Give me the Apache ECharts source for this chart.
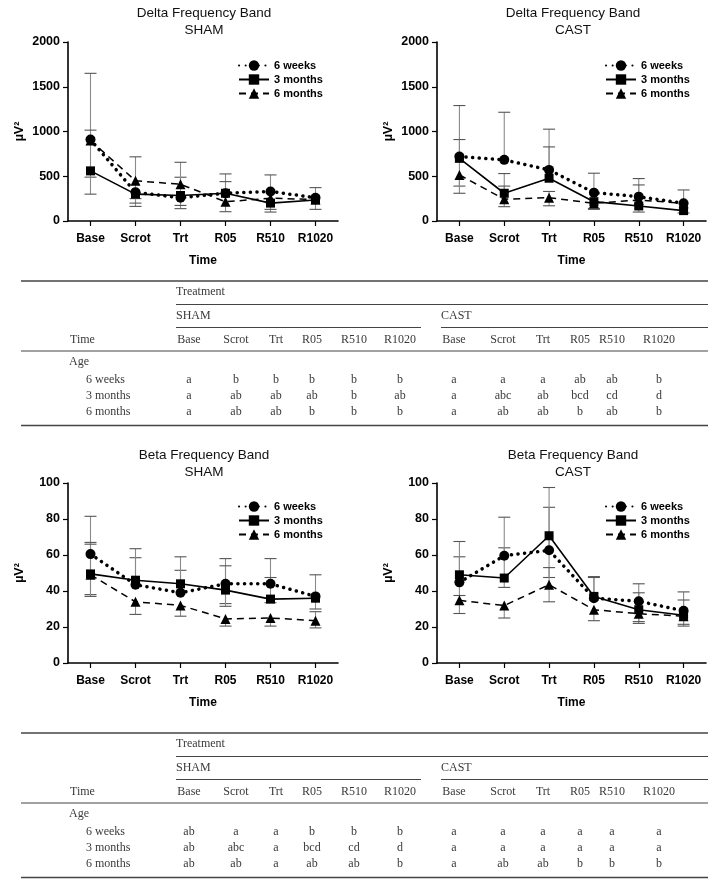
<!DOCTYPE html>
<html><head><meta charset="utf-8">
<script src="https://cdn.jsdelivr.net/npm/echarts@6/dist/echarts.min.js"></script>
<style>html,body{margin:0;padding:0;background:#fff}#c{width:717px;height:885px}</style>
</head><body><div id="c"></div>
<script>
// ---------- data ----------
const times = ['Base', 'Scrot', 'Trt', 'R05', 'R510', 'R1020'];
const ages = ['6 weeks', '3 months', '6 months'];

// Delta SHAM
const deltaSham6w = [910, 320, 260, 310, 330, 260];
const deltaSham3m = [560, 300, 285, 310, 200, 235];
const deltaSham6m = [900, 450, 410, 215, 255, 240];
const deltaSham6wErr = [[1650, 490], [null, 250], [null, 138], [526, null], [515, null], [373, null]];
const deltaSham3mErr = [[null, 300], [null, 163], [489, 174], [440, null], [null, 100], [null, 130]];
const deltaSham6mErr = [[1015, null], [717, 200], [656, null], [null, 104], [null, 130], [null, null]];

// Delta CAST
const deltaCast6w = [720, 683, 571, 317, 272, 198];
const deltaCast3m = [700, 310, 478, 216, 168, 116];
const deltaCast6m = [515, 243, 261, 198, 235, 198];
const deltaCast6wErr = [[1290, null], [1215, null], [1026, null], [534, null], [474, null], [347, null]];
const deltaCast3mErr = [[910, 390], [530, null], [828, null], [null, 130], [null, 100], [null, 90]];
const deltaCast6mErr = [[null, 310], [390, 160], [330, 170], [null, 140], [403, null], [null, null]];

// Beta SHAM
const betaSham6w = [60.5, 43.5, 39, 44, 44, 37];
const betaSham3m = [49.5, 46, 44, 40.5, 35.5, 36];
const betaSham6m = [49, 34, 32, 24.5, 25, 23.5];
const betaSham6wErr = [[81.5, null], [58.5, null], [51.5, null], [58, 33], [58, null], [49, null]];
const betaSham3mErr = [[67, 38], [63.5, null], [59, null], [54, 31.5], [47.5, 33.5], [null, 30]];
const betaSham6mErr = [[66, 37], [null, 27], [null, 26], [null, 20.5], [null, 20.5], [28.5, 19.5]];

// Beta CAST
const betaCast6w = [44.8, 59.6, 62.6, 36, 34.3, 29];
const betaCast3m = [49, 47.2, 70.7, 37, 29.6, 26.5];
const betaCast6m = [34.8, 31.9, 43.5, 29.6, 27.4, 26];
const betaCast6wErr = [[59, 37.5], [64, null], [86.5, null], [48, null], [44, null], [39.5, null]];
const betaCast3mErr = [[67.5, null], [81, 42], [97.5, 47.5], [47.5, null], [39, 22], [35, 20.5]];
const betaCast6mErr = [[null, 27.5], [null, 25], [53, 34], [null, 23.5], [null, 23], [null, 21.5]];

// letters tables
const deltaShamLetters = [['a','b','b','b','b','b'], ['a','ab','ab','ab','b','ab'], ['a','ab','ab','b','b','b']];
const deltaCastLetters = [['a','a','a','ab','ab','b'], ['a','abc','ab','bcd','cd','d'], ['a','ab','ab','b','ab','b']];
const betaShamLetters = [['ab','a','a','b','b','b'], ['ab','abc','a','bcd','cd','d'], ['ab','ab','a','ab','ab','b']];
const betaCastLetters = [['a','a','a','a','a','a'], ['a','a','a','a','a','a'], ['a','ab','ab','b','b','b']];

// ---------- layout ----------
const SANS = '"Liberation Sans", Arial, sans-serif';
const SERIF = '"Liberation Serif", "Times New Roman", serif';

const panels = [
  { band: 'Delta Frequency Band', group: 'SHAM', cx: 204, ty: 13, left: 68, top: 42, width: 270, height: 179, max: 2000, interval: 500,
    means: [deltaSham6w, deltaSham3m, deltaSham6m], errs: [deltaSham6wErr, deltaSham3mErr, deltaSham6mErr], lgLeft: 233, lgTop: 55 },
  { band: 'Delta Frequency Band', group: 'CAST', cx: 573, ty: 13, left: 437, top: 42, width: 269, height: 179, max: 2000, interval: 500,
    means: [deltaCast6w, deltaCast3m, deltaCast6m], errs: [deltaCast6wErr, deltaCast3mErr, deltaCast6mErr], lgLeft: 600, lgTop: 55 },
  { band: 'Beta Frequency Band', group: 'SHAM', cx: 204, ty: 455, left: 68, top: 483, width: 270, height: 180, max: 100, interval: 20,
    means: [betaSham6w, betaSham3m, betaSham6m], errs: [betaSham6wErr, betaSham3mErr, betaSham6mErr], lgLeft: 233, lgTop: 496 },
  { band: 'Beta Frequency Band', group: 'CAST', cx: 573, ty: 455, left: 437, top: 483, width: 269, height: 180, max: 100, interval: 20,
    means: [betaCast6w, betaCast3m, betaCast6m], errs: [betaCast6wErr, betaCast3mErr, betaCast6mErr], lgLeft: 600, lgTop: 496 }
];

const seriesStyles = [
  { symbol: 'circle', symbolSize: 10, lineStyle: { color: '#000', width: 3.5, type: [0.1, 6.5], cap: 'round' } },
  { symbol: 'rect', symbolSize: 9, lineStyle: { color: '#000', width: 1.6, type: 'solid' } },
  { symbol: 'triangle', symbolSize: 10, lineStyle: { color: '#000', width: 1.5, type: [7, 5] } }
];

const grids = [], xAxes = [], yAxes = [], series = [], legends = [], graphics = [];

panels.forEach((p, i) => {
  grids.push({ left: p.left, top: p.top, width: p.width, height: p.height, containLabel: false });
  xAxes.push({
    type: 'category', gridIndex: i, data: times, boundaryGap: true,
    axisLine: { lineStyle: { color: '#000', width: 1.6 } },
    axisTick: { show: true, alignWithLabel: true, interval: 0, length: 5, lineStyle: { color: '#000', width: 1.2 } },
    axisLabel: { color: '#000', fontWeight: 'bold', fontSize: 12, fontFamily: SANS, margin: 12, interval: 0 },
    name: 'Time', nameLocation: 'middle', nameGap: 34,
    nameTextStyle: { color: '#000', fontWeight: 'bold', fontSize: 12, fontFamily: SANS }
  });
  yAxes.push({
    type: 'value', gridIndex: i, min: 0, max: p.max, interval: p.interval,
    axisLine: { show: true, lineStyle: { color: '#000', width: 1.6 } },
    axisTick: { show: true, length: 5, lineStyle: { color: '#000', width: 1.2 } },
    splitLine: { show: false },
    axisLabel: { color: '#000', fontWeight: 'bold', fontSize: 12.5, fontFamily: SANS, margin: 8, formatter: v => String(v) },
    name: 'µV²', nameLocation: 'middle', nameGap: 42, nameRotate: 90,
    nameTextStyle: { color: '#000', fontWeight: 'bold', fontSize: 12.5, fontFamily: SANS }
  });
  // error bars
  p.errs.forEach((err, s) => {
    const mean = p.means[s];
    series.push({
      type: 'custom', xAxisIndex: i, yAxisIndex: i, z: 1, silent: true,
      data: times.map((t, k) => [k, mean[k]]),
      renderItem: function (params, api) {
        const k = api.value(0);
        const m = api.value(1);
        const e = err[params.dataIndex];
        const children = [];
        const st = { stroke: '#8a8a8a', lineWidth: 1.1 };
        [e[0], e[1]].forEach(v => {
          if (v === null || v === undefined) return;
          const a = api.coord([k, m]);
          const b = api.coord([k, v]);
          children.push({ type: 'line', shape: { x1: a[0], y1: a[1], x2: b[0], y2: b[1] }, style: st });
          children.push({ type: 'line', shape: { x1: b[0] - 6, y1: b[1], x2: b[0] + 6, y2: b[1] }, style: { stroke: '#555', lineWidth: 1.1 } });
        });
        return { type: 'group', children: children };
      }
    });
  });
  // mean lines
  p.means.forEach((m, s) => {
    const st = seriesStyles[s];
    series.push({
      type: 'line', name: ages[s], xAxisIndex: i, yAxisIndex: i, z: 3,
      data: m, symbol: st.symbol, symbolSize: st.symbolSize, showSymbol: true,
      itemStyle: { color: '#000' }, lineStyle: st.lineStyle, emphasis: { disabled: true }, animation: false
    });
  });
  legends.push({
    show: true, orient: 'vertical', left: p.lgLeft, top: p.lgTop, itemWidth: 30, itemHeight: 13, itemGap: 3,
    selectedMode: false, data: ages,
    textStyle: { color: '#000', fontWeight: 'bold', fontSize: 11, fontFamily: SANS }
  });
  graphics.push({ type: 'text', style: { text: p.band, x: p.cx, y: p.ty, align: 'center', verticalAlign: 'middle', fontSize: 13.5, fontFamily: SANS, fill: '#111' } });
  graphics.push({ type: 'text', style: { text: p.group, x: p.cx, y: p.ty + 17, align: 'center', verticalAlign: 'middle', fontSize: 13.5, fontFamily: SANS, fill: '#111' } });
});

// ---------- tables ----------
const shamCols = [189, 236, 276, 312, 354, 400];
const castCols = [454, 503, 543, 580, 612, 659];
function tableEls(y0, shamL, castL) {
  const els = [];
  const txt = (s, x, y, align) => ({ type: 'text', style: { text: s, x: x, y: y, align: align || 'left', verticalAlign: 'middle', fontSize: 12, fontFamily: SERIF, fill: '#3a3a3a' } });
  const rule = (x1, x2, y, w) => ({ type: 'line', shape: { x1: x1, y1: y, x2: x2, y2: y }, style: { stroke: '#444', lineWidth: w } });
  els.push(rule(21, 708, y0, 1.6));
  els.push(txt('Treatment', 176, y0 + 10.5));
  els.push(rule(176, 708, y0 + 23.5, 1));
  els.push(txt('SHAM', 176, y0 + 35));
  els.push(txt('CAST', 441, y0 + 35));
  els.push(rule(176, 421, y0 + 46.5, 1));
  els.push(rule(441, 708, y0 + 46.5, 1));
  els.push(txt('Time', 70, y0 + 59));
  times.forEach((t, k) => {
    els.push(txt(t, shamCols[k], y0 + 59, 'center'));
    els.push(txt(t, castCols[k], y0 + 59, 'center'));
  });
  els.push(rule(21, 708, y0 + 70, 1.2));
  els.push(txt('Age', 69, y0 + 81));
  const rowY = [98.5, 115, 131];
  ages.forEach((a, r) => {
    els.push(txt(a, 86, y0 + rowY[r]));
    shamL[r].forEach((v, k) => els.push(txt(v, shamCols[k], y0 + rowY[r], 'center')));
    castL[r].forEach((v, k) => els.push(txt(v, castCols[k], y0 + rowY[r], 'center')));
  });
  els.push(rule(21, 708, y0 + 144.5, 1.6));
  return els;
}
tableEls(281, deltaShamLetters, deltaCastLetters).forEach(e => graphics.push(e));
tableEls(733, betaShamLetters, betaCastLetters).forEach(e => graphics.push(e));

const chart = echarts.init(document.getElementById('c'));
chart.setOption({
  animation: false,
  backgroundColor: '#fff',
  grid: grids, xAxis: xAxes, yAxis: yAxes, series: series, legend: legends,
  graphic: { elements: graphics }
});
</script></body></html>
